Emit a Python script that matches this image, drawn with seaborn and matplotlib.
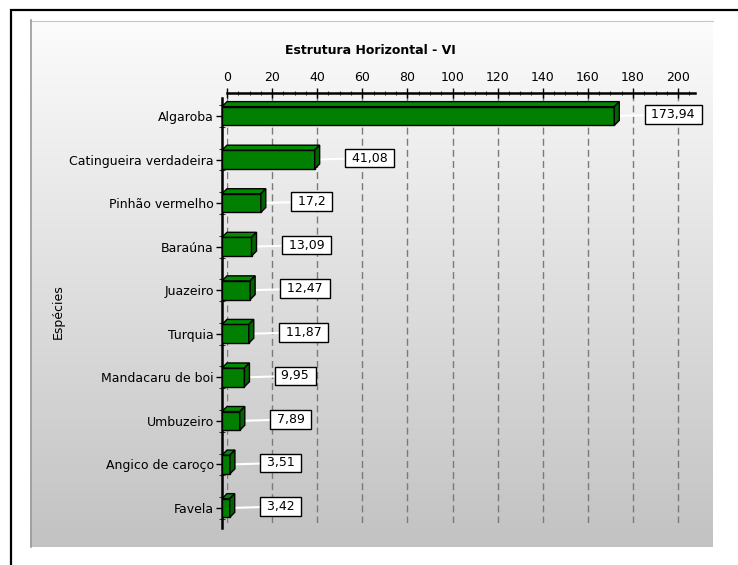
import numpy as np
import matplotlib
matplotlib.use("Agg")
import matplotlib.pyplot as plt
import seaborn as sns
from matplotlib.patches import Polygon
from matplotlib.colors import LinearSegmentedColormap
from matplotlib.ticker import MultipleLocator, FixedLocator

# ---- data ----
species = [
    "Algaroba", "Catingueira verdadeira", "Pinhão vermelho", "Baraúna",
    "Juazeiro", "Turquia", "Mandacaru de boi", "Umbuzeiro",
    "Angico de caroço", "Favela",
]
vi = [173.94, 41.08, 17.2, 13.09, 12.47, 11.87, 9.95, 7.89, 3.51, 3.42]
x_ticks = [0, 20, 40, 60, 80, 100, 120, 140, 160, 180, 200]
title = "Estrutura Horizontal - VI"
ylabel = "Espécies"

# ---- figure geometry (pixels) ----
W, H, DPI = 738, 565, 100
DEPTH = 5  # 3-D depth of the bars, pixels

plt.rcParams["font.family"] = ["DejaVu Sans"]
fig = plt.figure(figsize=(W / DPI, H / DPI), dpi=DPI)


def px_rect(x0, y0, x1, y1):
    """Pixel box measured from the top-left corner -> figure fraction rect."""
    return [x0 / W, 1 - y1 / H, (x1 - x0) / W, (y1 - y0) / H]


# ---- background: frame + gradient panel ----
bg = fig.add_axes([0, 0, 1, 1], zorder=0)
grad = np.linspace(0, 1, 256)[:, None]
cmap = LinearSegmentedColormap.from_list("panel", ["#fcfcfc", "#c2c2c2"])
bg.imshow(grad, cmap=cmap, extent=(30, 713, 547, 20), aspect="auto")
bg.plot([30, 713], [20.5, 20.5], color="#c8c8c8", lw=0.8)
bg.plot([30.5, 30.5], [20, 547], color="#9a9a9a", lw=1.2)
bg.plot([10, W], [9.5, 9.5], color="black", lw=1.6, solid_capstyle="butt")
bg.plot([10.5, 10.5], [9, H], color="black", lw=1.6, solid_capstyle="butt")
bg.set_xlim(0, W)
bg.set_ylim(H, 0)
bg.axis("off")

XMAX = 207.5

# ---- back plane: value axis, ticks and grid ----
ax_b = fig.add_axes(px_rect(222 + DEPTH, 98 - DEPTH, 690 + DEPTH, 528 - DEPTH), zorder=1)
ax_b.patch.set_alpha(0)
ax_b.set_xlim(0, XMAX)
ax_b.set_ylim(0, 1)
for side in ["left", "right", "bottom"]:
    ax_b.spines[side].set_visible(False)
ax_b.spines["top"].set_linewidth(1.8)
ax_b.xaxis.tick_top()
ax_b.set_xticks(x_ticks)
ax_b.xaxis.set_minor_locator(MultipleLocator(5))
ax_b.tick_params(axis="x", which="major", direction="inout", length=7, width=1,
                 labelsize=9, pad=3, colors="black")
ax_b.tick_params(axis="x", which="minor", direction="inout", length=3, width=0.8,
                 colors="#333333")
ax_b.set_yticks([])
ax_b.grid(axis="x", which="major", color="#7a7a7a", linestyle=(0, (5, 3)), lw=1)

# ---- front plane: bars ----
ax = fig.add_axes(px_rect(222, 98, 690, 528), zorder=2)
ax.patch.set_alpha(0)
sns.barplot(x=vi, y=species, orient="h", color="#007f00", saturation=1,
            width=0.43, edgecolor="black", linewidth=1, ax=ax, zorder=3)
ax.set_xlim(0, XMAX)
ax.set_ylim(9.459, -0.413)
ax.set_xlabel("")
ax.set_ylabel("")
ax.set_xticks([])
for side in ["top", "right", "bottom"]:
    ax.spines[side].set_visible(False)
ax.spines["left"].set_linewidth(1.8)
ax.tick_params(axis="y", which="major", direction="out", length=4, width=1,
               labelsize=9, pad=2, colors="black")
ax.yaxis.set_minor_locator(FixedLocator(
    [i + d for i in range(len(species)) for d in (-0.25, 0.25)]))
ax.tick_params(axis="y", which="minor", direction="inout", length=4, width=0.8,
               colors="#333333")

# 3-D top and side faces of each bar
to_disp = ax.transData
to_data = ax.transData.inverted()
bars = list(ax.patches)
for p, v in zip(bars, vi):
    x0, y0, w, h = p.get_x(), p.get_y(), p.get_width(), p.get_height()
    pts = to_disp.transform([(x0, y0), (x0 + w, y0), (x0 + w, y0 + h), (x0, y0 + h)])
    top_y = pts[:, 1].max()
    bot_y = pts[:, 1].min()
    left_x, right_x = pts[:, 0].min(), pts[:, 0].max()
    d = np.array([DEPTH, DEPTH])
    top = np.array([(left_x, top_y), (right_x, top_y),
                    (right_x + DEPTH, top_y + DEPTH), (left_x + DEPTH, top_y + DEPTH)])
    side = np.array([(right_x, top_y), (right_x, bot_y),
                     (right_x + DEPTH, bot_y + DEPTH), (right_x + DEPTH, top_y + DEPTH)])
    ax.add_patch(Polygon(to_data.transform(top), closed=True, fc="#008c00",
                         ec="black", lw=1, zorder=4, joinstyle="miter"))
    ax.add_patch(Polygon(to_data.transform(side), closed=True, fc="#006400",
                         ec="black", lw=1, zorder=4, joinstyle="miter"))

    # value label in a white box joined by a white leader line
    label = f"{v:g}".replace(".", ",")
    ax.annotate(f" {label} ", xy=(x0 + w, y0 + h / 2), xytext=(33, 1.5),
                textcoords="offset pixels", ha="left", va="center", fontsize=9,
                color="black", zorder=2, annotation_clip=False,
                bbox=dict(boxstyle="square,pad=0.22", fc="white", ec="black", lw=1),
                arrowprops=dict(arrowstyle="-", color="white", lw=1.5,
                                shrinkA=0, shrinkB=0))

# ---- titles ----
fig.text(370 / W, 1 - 51 / H, title, ha="center", va="center",
         fontsize=9, fontweight="bold")
fig.text(58 / W, 1 - 312 / H, ylabel, rotation=90, ha="center", va="center",
         fontsize=9)

fig.savefig("out.png", dpi=DPI)
